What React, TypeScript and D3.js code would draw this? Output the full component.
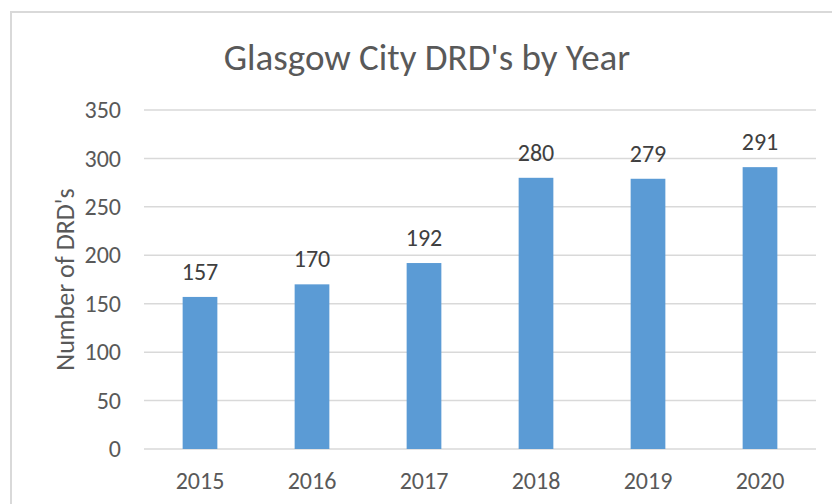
import { useEffect, useRef } from "react";
import * as d3 from "d3";

const years = ["2015", "2016", "2017", "2018", "2019", "2020"];
const deaths = [157, 170, 192, 280, 279, 291];
const yTicks = [0, 50, 100, 150, 200, 250, 300, 350];

const App = () => {
  const svgRef = useRef(null);

  useEffect(() => {
    const svg = d3.select(svgRef.current);
    svg.selectAll("*").remove();

    const font = "Carlito, Calibri, 'Liberation Sans', sans-serif";
    const left = 144;
    const right = 816;
    const top = 110;
    const bottom = 449;

    // chart border, runs off the right and bottom edges like the screenshot
    svg
      .append("rect")
      .attr("x", 11)
      .attr("y", 12)
      .attr("width", 840)
      .attr("height", 520)
      .attr("fill", "#fff")
      .attr("stroke", "#d9d9d9")
      .attr("stroke-width", 2);

    const x = d3.scaleBand().domain(years).range([left, right]).padding(0);
    const y = d3.scaleLinear().domain([0, 350]).range([bottom, top]);
    const barW = x.bandwidth() * 0.31;

    svg
      .append("text")
      .attr("x", 427)
      .attr("y", 70)
      .attr("text-anchor", "middle")
      .attr("font-family", font)
      .attr("font-weight", 300)
      .attr("font-size", 37)
      .attr("fill", "#595959")
      .text("Glasgow City DRD's by Year");

    // gridlines
    svg
      .append("g")
      .selectAll("line")
      .data(yTicks)
      .join("line")
      .attr("x1", left)
      .attr("x2", right)
      .attr("y1", (d) => y(d))
      .attr("y2", (d) => y(d))
      .attr("stroke", "#d9d9d9")
      .attr("stroke-width", 1.5);

    // y tick labels
    svg
      .append("g")
      .selectAll("text")
      .data(yTicks)
      .join("text")
      .attr("x", 121)
      .attr("y", (d) => y(d))
      .attr("dy", "0.34em")
      .attr("text-anchor", "end")
      .attr("font-family", font)
      .attr("font-size", 24)
      .attr("fill", "#595959")
      .text((d) => d);

    svg
      .append("text")
      .attr("transform", `translate(74, ${(top + bottom) / 2}) rotate(-90)`)
      .attr("text-anchor", "middle")
      .attr("font-family", font)
      .attr("font-size", 26)
      .attr("fill", "#595959")
      .text("Number of DRD's");

    const data = years.map((yr, i) => ({ year: yr, value: deaths[i] }));

    svg
      .append("g")
      .selectAll("rect")
      .data(data)
      .join("rect")
      .attr("x", (d) => x(d.year) + x.bandwidth() / 2 - barW / 2)
      .attr("y", (d) => y(d.value))
      .attr("width", barW)
      .attr("height", (d) => bottom - y(d.value))
      .attr("fill", "#5b9bd5");

    // data labels
    svg
      .append("g")
      .selectAll("text")
      .data(data)
      .join("text")
      .attr("x", (d) => x(d.year) + x.bandwidth() / 2)
      .attr("y", (d) => y(d.value) - 17)
      .attr("text-anchor", "middle")
      .attr("font-family", font)
      .attr("font-size", 24)
      .attr("fill", "#404040")
      .text((d) => d.value);

    // x axis labels
    svg
      .append("g")
      .selectAll("text")
      .data(years)
      .join("text")
      .attr("x", (d) => x(d) + x.bandwidth() / 2)
      .attr("y", 489)
      .attr("text-anchor", "middle")
      .attr("font-family", font)
      .attr("font-size", 24)
      .attr("fill", "#595959")
      .text((d) => d);
  }, []);

  return (
    <svg
      ref={svgRef}
      width={832}
      height={504}
      style={{ position: "absolute", left: 0, top: 0 }}
    ></svg>
  );
};

export default App;
